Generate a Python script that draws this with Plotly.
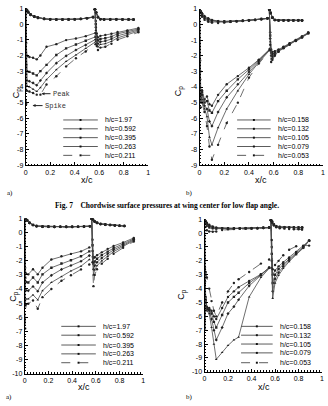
import plotly.graph_objects as go

W, H = 328, 406

# ---------------- data ----------------
hc_a = ["1.97", "0.592", "0.395", "0.263", "0.211"]
hc_b = ["0.158", "0.132", "0.105", "0.079", "0.053"]

x_tick_vals = [0, 0.2, 0.4, 0.6, 0.8, 1]
x_tick_text = ["0", "0.2", "0.4", "0.6", "0.8", "1"]

# main element, lower surface (TE -> LE)
x_ml = [0.55, 0.5, 0.45, 0.4, 0.35, 0.3, 0.25, 0.2, 0.15, 0.1, 0.07, 0.04, 0.02, 0.01, 0.0]

# ---- panel 1 (top a) ----
x1_mu = [0.0, 0.004, 0.01, 0.03, 0.06, 0.09, 0.12, 0.17, 0.25, 0.33, 0.41, 0.49, 0.57]
cp1_mu = [
    [1.0, -1.2, -2.05, -2.1, -2.15, -2.25, -2.0, -1.45, -1.28, -1.02, -0.92, -0.77, -0.56],
    [1.0, -2.0, -3.0, -3.05, -3.15, -3.27, -3.0, -2.6, -1.97, -1.55, -1.3, -1.06, -0.81],
    [1.0, -2.6, -3.6, -3.65, -3.75, -3.9, -3.6, -3.12, -2.49, -2.03, -1.65, -1.34, -0.98],
    [1.0, -3.2, -3.95, -4.0, -4.15, -4.3, -4.05, -3.54, -2.91, -2.38, -1.97, -1.55, -1.13],
    [1.0, -5.1, -4.25, -4.3, -4.4, -4.5, -4.5, -3.85, -3.33, -2.7, -2.18, -1.75, -1.28],
]
cp1_ml = [
    [0.45, 0.38, 0.33, 0.31, 0.30, 0.30, 0.30, 0.31, 0.34, 0.42, 0.50, 0.62, 0.78, 0.90, 1.0],
    [0.45, 0.38, 0.33, 0.31, 0.30, 0.30, 0.30, 0.31, 0.34, 0.41, 0.49, 0.61, 0.77, 0.90, 1.0],
    [0.44, 0.37, 0.33, 0.31, 0.30, 0.29, 0.29, 0.30, 0.33, 0.40, 0.48, 0.60, 0.76, 0.89, 1.0],
    [0.44, 0.37, 0.33, 0.30, 0.29, 0.29, 0.29, 0.30, 0.33, 0.40, 0.47, 0.59, 0.75, 0.88, 1.0],
    [0.44, 0.37, 0.32, 0.30, 0.29, 0.28, 0.28, 0.29, 0.32, 0.39, 0.46, 0.58, 0.74, 0.88, 1.0],
]
x1_fl = [0.88, 0.84, 0.79, 0.74, 0.69, 0.64, 0.61, 0.59, 0.575, 0.565]
cp1_fl = [
    [0.30, 0.30, 0.30, 0.31, 0.30, 0.30, 0.32, 0.45, 0.75, 0.95],
    [0.30, 0.30, 0.30, 0.30, 0.30, 0.30, 0.32, 0.45, 0.75, 0.95],
    [0.29, 0.30, 0.29, 0.30, 0.30, 0.29, 0.31, 0.44, 0.74, 0.95],
    [0.29, 0.29, 0.29, 0.30, 0.29, 0.29, 0.31, 0.44, 0.74, 0.95],
    [0.28, 0.29, 0.29, 0.29, 0.29, 0.29, 0.31, 0.43, 0.73, 0.95],
]
x1_fu = [0.565, 0.572, 0.58, 0.59, 0.61, 0.65, 0.70, 0.75, 0.83, 0.92]
cp1_fu = [
    [0.95, 0.2, -0.6, -0.85, -0.75, -0.7, -0.62, -0.5, -0.4, -0.25],
    [0.95, 0.0, -0.8, -1.05, -0.95, -0.9, -0.8, -0.62, -0.48, -0.32],
    [0.95, -0.2, -1.0, -1.25, -1.13, -1.08, -0.95, -0.75, -0.58, -0.38],
    [0.95, -0.4, -1.2, -1.45, -1.3, -1.25, -1.1, -0.88, -0.68, -0.45],
    [0.95, -0.6, -1.4, -1.65, -1.5, -1.45, -1.25, -1.0, -0.78, -0.52],
]

# ---- panel 2 (top b) ----
x2_mu = [0.0, 0.005, 0.01, 0.02, 0.04, 0.06, 0.08, 0.1, 0.15, 0.22, 0.31, 0.4, 0.48, 0.57]
cp2_mu = [
    [1.0, -2.3, -4.4, -4.2, -4.8, -4.6, -5.1, -5.2, -4.5, -3.82, -3.3, -2.77, -2.25, -1.55],
    [1.0, -3.0, -4.5, -4.3, -5.0, -4.9, -5.5, -5.65, -4.9, -4.24, -3.51, -2.88, -2.29, -1.58],
    [1.0, -3.5, -4.7, -4.5, -5.2, -5.4, -6.2, -6.5, -5.6, -4.66, -3.82, -3.04, -2.35, -1.6],
    [1.0, -4.0, -4.9, -4.8, -5.4, -5.9, -7.2, -7.7, -6.6, -5.4, -4.24, -3.19, -2.42, -1.62],
    [1.0, -4.5, -5.3, -5.0, -5.6, -6.5, -7.8, -8.65, -7.7, -6.3, -5.0, -3.4, -2.5, -1.65],
]
cp2_ml = [
    [0.40, 0.35, 0.30, 0.27, 0.25, 0.22, 0.20, 0.20, 0.22, 0.30, 0.40, 0.55, 0.72, 0.85, 1.0],
    [0.40, 0.35, 0.30, 0.27, 0.25, 0.22, 0.20, 0.20, 0.20, 0.25, 0.32, 0.45, 0.62, 0.78, 1.0],
    [0.40, 0.35, 0.30, 0.27, 0.24, 0.21, 0.19, 0.18, 0.20, 0.25, 0.35, 0.50, 0.70, 0.85, 1.0],
    [0.39, 0.34, 0.29, 0.26, 0.24, 0.21, 0.18, 0.15, 0.15, 0.18, 0.25, 0.40, 0.60, 0.80, 1.0],
    [0.38, 0.34, 0.29, 0.26, 0.23, 0.20, 0.17, 0.12, 0.10, 0.12, 0.18, 0.30, 0.50, 0.75, 0.95],
]
x2_fl = [0.83, 0.8, 0.76, 0.72, 0.68, 0.64, 0.61, 0.59, 0.575, 0.565]
cp2_fl = [
    [0.27, 0.27, 0.27, 0.27, 0.27, 0.27, 0.30, 0.45, 0.75, 0.95],
    [0.27, 0.27, 0.27, 0.27, 0.27, 0.27, 0.30, 0.45, 0.75, 0.95],
    [0.26, 0.27, 0.26, 0.27, 0.26, 0.27, 0.29, 0.44, 0.74, 0.95],
    [0.26, 0.26, 0.26, 0.26, 0.26, 0.26, 0.29, 0.44, 0.74, 0.95],
    [0.25, 0.26, 0.25, 0.26, 0.26, 0.26, 0.28, 0.43, 0.73, 0.95],
]
x2_fu = [0.565, 0.572, 0.58, 0.59, 0.61, 0.64, 0.68, 0.73, 0.78, 0.83, 0.88]
cp2_fu = [
    [0.95, -0.5, -1.6, -1.75, -1.7, -1.6, -1.42, -1.2, -0.98, -0.76, -0.52],
    [0.95, -0.7, -1.8, -1.9, -1.8, -1.65, -1.45, -1.22, -1.0, -0.78, -0.54],
    [0.95, -0.9, -2.0, -2.05, -1.9, -1.7, -1.48, -1.25, -1.02, -0.8, -0.56],
    [0.95, -1.1, -2.2, -2.15, -1.95, -1.72, -1.5, -1.27, -1.04, -0.82, -0.58],
    [0.95, -1.3, -2.4, -2.25, -2.0, -1.75, -1.52, -1.3, -1.06, -0.84, -0.5],
]

# ---- panel 3 (bottom a) ----
x3_mu = [0.0, 0.004, 0.01, 0.03, 0.07, 0.11, 0.15, 0.225, 0.31, 0.39, 0.475, 0.545]
cp3_mu = [
    [1.0, -2.5, -2.9, -2.96, -2.6, -2.96, -2.49, -1.91, -1.68, -1.51, -1.33, -1.05],
    [1.0, -3.2, -3.5, -3.54, -3.19, -3.54, -2.96, -2.49, -2.19, -1.96, -1.68, -1.33],
    [1.0, -4.0, -4.1, -4.12, -3.82, -4.16, -3.54, -3.03, -2.61, -2.33, -2.03, -1.63],
    [1.0, -5.2, -4.7, -4.7, -4.42, -4.77, -4.12, -3.54, -3.12, -2.72, -2.38, -1.91],
    [1.0, -6.8, -5.1, -5.05, -4.82, -5.4, -4.58, -4.0, -3.42, -3.03, -2.61, -2.26],
]
cp3_ml = [
    [0.46, 0.43, 0.42, 0.42, 0.42, 0.42, 0.42, 0.43, 0.44, 0.47, 0.55, 0.70, 0.88, 0.97, 1.0],
    [0.46, 0.43, 0.42, 0.42, 0.42, 0.42, 0.42, 0.43, 0.44, 0.47, 0.55, 0.70, 0.88, 0.97, 1.0],
    [0.45, 0.43, 0.42, 0.41, 0.41, 0.42, 0.41, 0.42, 0.43, 0.46, 0.54, 0.69, 0.87, 0.96, 1.0],
    [0.45, 0.42, 0.41, 0.41, 0.41, 0.41, 0.41, 0.42, 0.43, 0.46, 0.54, 0.68, 0.86, 0.96, 1.0],
    [0.44, 0.42, 0.41, 0.40, 0.40, 0.41, 0.40, 0.41, 0.42, 0.45, 0.53, 0.68, 0.86, 0.96, 1.0],
]
x3_fl = [0.84, 0.8, 0.76, 0.72, 0.68, 0.64, 0.61, 0.59, 0.575, 0.565]
cp3_fl = [
    [0.48, 0.50, 0.52, 0.55, 0.58, 0.62, 0.70, 0.80, 0.95, 1.0],
    [0.48, 0.50, 0.52, 0.55, 0.58, 0.62, 0.70, 0.80, 0.95, 1.0],
    [0.47, 0.49, 0.51, 0.54, 0.57, 0.61, 0.69, 0.79, 0.94, 1.0],
    [0.47, 0.49, 0.51, 0.54, 0.57, 0.61, 0.69, 0.79, 0.94, 1.0],
    [0.46, 0.48, 0.50, 0.53, 0.56, 0.60, 0.68, 0.78, 0.93, 1.0],
]
x3_fu = [0.565, 0.572, 0.58, 0.59, 0.61, 0.65, 0.70, 0.75, 0.83, 0.92]
cp3_fu = [
    [1.0, -0.5, -1.8, -1.75, -1.6, -1.4, -1.15, -0.95, -0.7, -0.38],
    [1.0, -0.9, -2.2, -2.05, -1.85, -1.6, -1.35, -1.1, -0.8, -0.45],
    [1.0, -1.3, -2.6, -2.35, -2.1, -1.8, -1.5, -1.22, -0.9, -0.5],
    [1.0, -1.7, -3.0, -2.65, -2.35, -2.0, -1.68, -1.35, -0.98, -0.56],
    [1.0, -2.1, -3.8, -3.0, -2.6, -2.2, -1.85, -1.5, -1.08, -0.63],
]

# ---- panel 4 (bottom b) ----
x4_mu = [0.0, 0.004, 0.01, 0.02, 0.04, 0.06, 0.08, 0.1, 0.15, 0.2, 0.25, 0.29, 0.38, 0.48, 0.55]
cp4_mu = [
    [1.0, -2.5, -4.6, -5.3, -5.4, -5.6, -6.0, -6.2, -5.4, -4.6, -4.2, -3.9, -3.45, -2.97, -2.5],
    [1.0, -3.0, -4.8, -5.4, -5.5, -5.8, -6.4, -6.8, -5.9, -5.0, -4.6, -4.3, -3.6, -3.0, -2.5],
    [1.0, -3.5, -5.0, -5.5, -5.6, -6.2, -7.0, -7.7, -6.8, -5.8, -5.3, -4.8, -3.8, -3.05, -2.5],
    [1.0, -6.9, -5.3, -5.6, -5.8, -6.8, -8.0, -9.1, -8.6, -8.1, -7.7, -7.5, -4.6, -3.2, -2.55],
    [1.0, -2.6, -2.8, -3.2, -4.0, -4.9, -5.6, -6.0, -5.0, -4.2, -3.6, -3.33, -2.8, -2.2, -1.9],
]
cp4_ml = [
    [0.40, 0.38, 0.36, 0.35, 0.35, 0.35, 0.35, 0.35, 0.36, 0.40, 0.48, 0.60, 0.75, 0.88, 1.0],
    [0.40, 0.38, 0.36, 0.35, 0.35, 0.34, 0.34, 0.34, 0.34, 0.36, 0.42, 0.52, 0.68, 0.82, 1.0],
    [0.40, 0.38, 0.36, 0.35, 0.34, 0.33, 0.33, 0.33, 0.33, 0.33, 0.36, 0.45, 0.60, 0.78, 1.0],
    [0.40, 0.38, 0.36, 0.35, 0.34, 0.33, 0.32, 0.32, 0.31, 0.30, 0.32, 0.38, 0.50, 0.70, 1.0],
    [0.38, 0.36, 0.34, 0.33, 0.33, 0.32, 0.30, 0.28, 0.22, 0.12, 0.10, 0.12, 0.20, 0.45, 0.95],
]
x4_fl = [0.83, 0.8, 0.76, 0.72, 0.68, 0.64, 0.61, 0.59, 0.575, 0.565]
cp4_fl = [
    [0.40, 0.40, 0.41, 0.41, 0.42, 0.44, 0.50, 0.62, 0.82, 0.95],
    [0.40, 0.40, 0.41, 0.41, 0.42, 0.44, 0.50, 0.62, 0.82, 0.95],
    [0.39, 0.39, 0.40, 0.40, 0.41, 0.43, 0.49, 0.61, 0.81, 0.95],
    [0.39, 0.39, 0.40, 0.40, 0.41, 0.43, 0.49, 0.61, 0.81, 0.95],
    [0.25, 0.27, 0.28, 0.30, 0.32, 0.35, 0.42, 0.55, 0.75, 0.90],
]
x4_fu = [0.565, 0.572, 0.58, 0.6, 0.63, 0.67, 0.72, 0.78, 0.84, 0.89]
cp4_fu = [
    [0.95, -1.0, -3.0, -2.7, -2.4, -2.1, -1.75, -1.35, -0.95, -0.55],
    [0.95, -1.5, -3.6, -3.0, -2.6, -2.25, -1.85, -1.42, -1.0, -0.55],
    [0.95, -2.0, -4.2, -3.3, -2.85, -2.4, -1.95, -1.5, -1.05, -0.55],
    [0.95, -2.5, -4.7, -3.6, -3.05, -2.55, -2.05, -1.55, -1.08, -0.52],
    [0.90, -0.5, -2.6, -2.3, -2.0, -1.6, -1.2, -0.95, -0.9, -0.9],
]

# ---------------- layout helpers ----------------
def px(x):
    return x / W


def py(y):
    return 1 - y / H


# plot areas in pixels: (left, right, top, bottom)
boxes = [
    (24, 148, 4.5, 164),
    (200, 325, 5, 164),
    (23, 143, 218.3, 376),
    (205, 324, 219, 374.3),
]
yranges = [[-9, 1], [-9, 1], [-10, 1], [-10, 1]]

line_col = "#4a4a4a"
symbols = ["circle", "square", "diamond", "triangle-up", "circle"]
dashes = ["solid", "solid", "solid", "solid", "dash"]

panels = [
    (x1_mu, cp1_mu, cp1_ml, x1_fl, cp1_fl, x1_fu, cp1_fu),
    (x2_mu, cp2_mu, cp2_ml, x2_fl, cp2_fl, x2_fu, cp2_fu),
    (x3_mu, cp3_mu, cp3_ml, x3_fl, cp3_fl, x3_fu, cp3_fu),
    (x4_mu, cp4_mu, cp4_ml, x4_fl, cp4_fl, x4_fu, cp4_fu),
]

fig = go.Figure()

for p, (xmu, cpmu, cpml, xfl, cpfl, xfu, cpfu) in enumerate(panels):
    xa = "x" if p == 0 else f"x{p+1}"
    ya = "y" if p == 0 else f"y{p+1}"
    for s in range(5):
        xs = list(x_ml) + list(xmu) + [None] + list(xfl) + list(xfu)
        ys = list(cpml[s]) + list(cpmu[s]) + [None] + list(cpfl[s]) + list(cpfu[s])
        fig.add_trace(go.Scatter(
            x=xs, y=ys, xaxis=xa, yaxis=ya, mode="lines+markers",
            line=dict(color=line_col, width=0.8, dash=dashes[s]),
            marker=dict(symbol=symbols[s], size=2.4, color="#222"),
            connectgaps=False, showlegend=False, hoverinfo="skip"))

font_sans = "Liberation Sans, Arial, sans-serif"
font_serif = "Liberation Serif, Times New Roman, serif"

layout = dict(
    width=W, height=H, margin=dict(l=0, r=0, t=0, b=0),
    paper_bgcolor="white", plot_bgcolor="white", showlegend=False,
)

for p, (l, r, t, b) in enumerate(boxes):
    xk = "xaxis" if p == 0 else f"xaxis{p+1}"
    yk = "yaxis" if p == 0 else f"yaxis{p+1}"
    ya = "y" if p == 0 else f"y{p+1}"
    xa = "x" if p == 0 else f"x{p+1}"
    y0, y1 = yranges[p]
    yv = list(range(y0, y1 + 1))
    layout[xk] = dict(
        domain=[px(l), px(r)], range=[0, 1], anchor=ya,
        showline=True, linecolor="black", linewidth=1, mirror=False,
        ticks="inside", ticklen=3, tickwidth=1, tickcolor="black",
        tickmode="array", tickvals=x_tick_vals, ticktext=x_tick_text,
        tickfont=dict(family=font_sans, size=7, color="black"),
        showgrid=False, zeroline=False, fixedrange=True,
        minor=dict(tickmode="linear", tick0=0, dtick=0.025, ticks="inside",
                   ticklen=1.5, tickwidth=0.8, tickcolor="black", showgrid=False),
    )
    layout[yk] = dict(
        domain=[py(b), py(t)], range=[y0, y1], anchor=xa,
        showline=True, linecolor="black", linewidth=1, mirror=False,
        ticks="inside", ticklen=3, tickwidth=1, tickcolor="black",
        tickmode="array", tickvals=yv, ticktext=[str(v) for v in yv],
        tickfont=dict(family=font_sans, size=7, color="black"),
        showgrid=False, zeroline=False, fixedrange=True,
        minor=dict(tickmode="linear", tick0=0, dtick=0.2, ticks="inside",
                   ticklen=1.5, tickwidth=0.8, tickcolor="black", showgrid=False),
    )

fig.update_layout(**layout)

annotations = []
shapes = []


def note(xp, yp, text, size=7, family=font_sans, xanchor="center", yanchor="middle", **kw):
    d = dict(x=px(xp), y=py(yp), xref="paper", yref="paper", text=text,
             xanchor=xanchor, yanchor=yanchor, showarrow=False,
             font=dict(family=family, size=size, color="black"))
    d.update(kw)
    annotations.append(d)


# axis titles
cp_pos = [(16, 90), (180, 88), (12, 297), (182, 295)]
xc_pos = [(86, 179), (262, 179), (83, 390), (265, 390)]
for (cx, cy) in cp_pos:
    note(cx, cy, "C<sub>p</sub>", size=9, textangle=-90)
for (cx, cy) in xc_pos:
    note(cx, cy, "x/c", size=9)

# panel labels
for (lx, ly, txt) in [(3, 192, "a)"), (184, 192, "b)"), (2, 400, "a)"), (184, 400, "b)")]:
    note(lx, ly, txt, family=font_serif, xanchor="left")

# caption
note(167, 205, "<b>Fig. 7\u00a0\u00a0\u00a0\u00a0Chordwise surface pressures at wing center for low flap angle.</b>",
     size=7.5, family=font_serif)

# Peak / Spike call-outs (top a)
for (xx, yy, txt, axo) in [(0.129, -4.44, "Peak", 9), (0.056, -5.2, "Spike", 10)]:
    annotations.append(dict(x=xx, y=yy, xref="x", yref="y", text=txt,
                            showarrow=True, ax=axo, ay=0, xanchor="left", yanchor="middle",
                            arrowhead=2, arrowsize=0.6, arrowwidth=1, arrowcolor="#222",
                            font=dict(family="Liberation Mono, monospace", size=7, color="#333")))

# manual legends
legend_specs = [
    (hc_a, [118, 127, 136, 145, 154], 62, 97, 102),
    (hc_b, [118, 127, 136, 145, 154], 238, 272, 277),
    (hc_a, [328, 337, 347, 356, 365], 60, 95, 100),
    (hc_b, [328, 337, 346, 355, 365], 242, 274, 279),
]
for labels, ys, x0, x1, xt in legend_specs:
    for s, (lab, yy) in enumerate(zip(labels, ys)):
        shapes.append(dict(type="line", xref="paper", yref="paper",
                           x0=px(x0), x1=px(x1), y0=py(yy), y1=py(yy),
                           line=dict(color=line_col, width=0.9, dash=dashes[s])))
        xm = (x0 + x1) / 2
        shapes.append(dict(type="rect", xref="paper", yref="paper",
                           x0=px(xm - 1), x1=px(xm + 1), y0=py(yy + 1), y1=py(yy - 1),
                           line=dict(width=0), fillcolor="#111"))
        note(xt, yy, f"h/c={lab}", xanchor="left")

fig.update_layout(annotations=annotations, shapes=shapes)

fig.write_html("out.html")
